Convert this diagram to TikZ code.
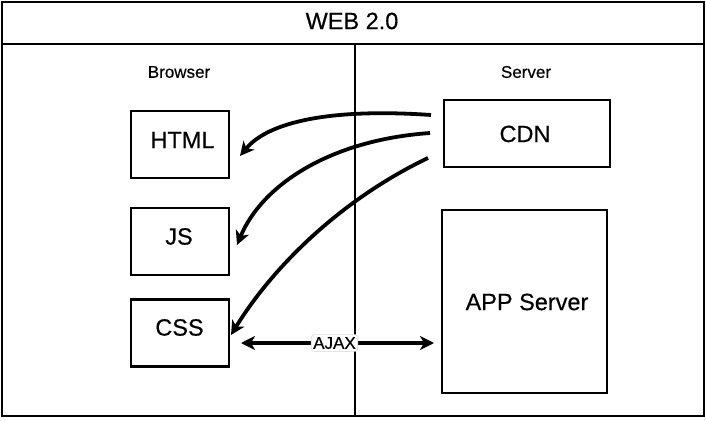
\documentclass[tikz,border=0pt]{standalone}
\usepackage{fontspec}
\setmainfont{Liberation Sans}[FakeBold=0.4]
\usetikzlibrary{arrows.meta}
\begin{document}
\begin{tikzpicture}[x=1pt,y=-1pt,
  box/.style={draw,line width=2.2pt,inner sep=0pt},
  boxtext/.style={font=\fontsize{23.5}{27}\selectfont,inner sep=0pt},
  flow/.style={line width=3.8pt,-{Stealth[length=14pt,width=14pt,inset=4pt]}},
  lbl/.style={font=\fontsize{17}{20}\selectfont}]
\useasboundingbox (0,0) rectangle (706,420);
\fill[white] (0,0) rectangle (706,420);
\draw[line width=2.4pt] (2,2) rectangle (704,416);
\draw[line width=2pt] (2,44) -- (704,44);
\draw[line width=1.8pt] (355,44) -- (355,416);
\node[font=\fontsize{23.5}{27}\selectfont] (title) at (352,21) {WEB 2.0};
\node[lbl] (browser) at (179,72) {Browser};
\node[lbl] (server) at (526,72) {Server};
\node[box,minimum width=98pt,minimum height=67pt] (html) at (180,144.5) {};
\node[boxtext] (htmlt) at (182.5,140) {HTML};
\node[box,minimum width=98pt,minimum height=67pt] (js) at (180,241.5) {};
\node[boxtext] (jst) at (179,236.5) {JS};
\node[box,minimum width=98pt,minimum height=67pt] (css) at (180,333) {};
\node[boxtext] (csst) at (179.5,327.5) {CSS};
\node[box,minimum width=166pt,minimum height=67pt] (cdn) at (527,133.5) {};
\node[boxtext] (cdnt) at (525,134) {CDN};
\node[box,minimum width=165pt,minimum height=183pt] (app) at (524.5,301.5) {};
\node[boxtext] (appt) at (527,302) {APP Server};
\coordinate (c1) at (431,115);
\coordinate (c2) at (430,133);
\coordinate (c3) at (428,158);
\coordinate (h1) at (240,156);
\coordinate (j1) at (237,245);
\coordinate (s1) at (231,335);
\coordinate (a1) at (241,343);
\coordinate (a2) at (434,343);
\draw[flow] (c1) .. controls (330,108) and (268,122) .. (h1);
\draw[flow] (c2) .. controls (330,140) and (262,185) .. (j1);
\draw[flow] (c3) .. controls (340,200) and (272,268) .. (s1);
\draw[line width=3.8pt,{Stealth[length=14pt,width=14pt,inset=4pt]}-{Stealth[length=14pt,width=14pt,inset=4pt]}] (a1) -- (a2)
  node[pos=0.5,xshift=-3pt,fill=white,draw=black!15,line width=0.6pt,rounded corners=3pt,inner xsep=2pt,inner ysep=2.5pt,font=\fontsize{17}{20}\selectfont] (ajax) {AJAX};
\end{tikzpicture}
\end{document}
